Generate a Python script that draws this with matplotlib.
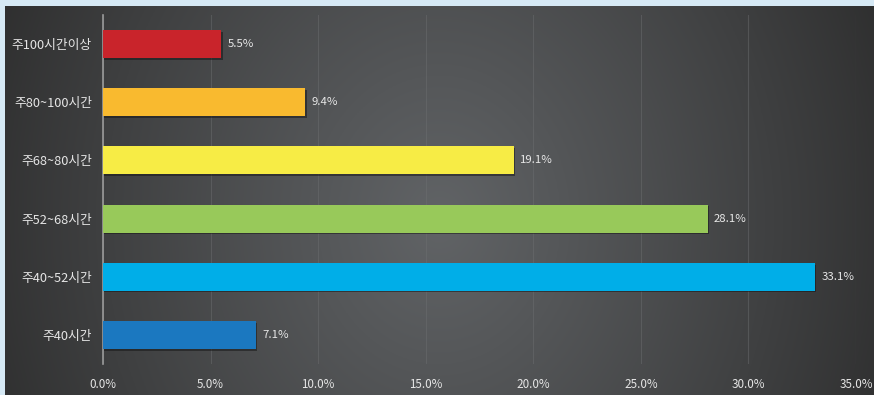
import numpy as np
import matplotlib
matplotlib.use('Agg')
import matplotlib.pyplot as plt
from matplotlib.ticker import FuncFormatter

plt.rcParams['font.family'] = ['Noto Sans CJK KR', 'DejaVu Sans']

categories = ['주100시간이상', '주80~100시간', '주68~80시간', '주52~68시간', '주40~52시간', '주40시간']
shares = [5.5, 9.4, 19.1, 28.1, 33.1, 7.1]
bar_colors = ['#c9242b', '#f9ba2f', '#f7ec45', '#98c95a', '#00aee8', '#1b78c0']
xticks = [0, 5, 10, 15, 20, 25, 30, 35]

W, H = 874, 395
fig = plt.figure(figsize=(W / 100, H / 100), dpi=100)
fig.patch.set_facecolor('#d6e9f5')

# dark panel with a soft glow in the middle, fading to the sides
bg = fig.add_axes([5 / W, 0, 1 - 5 / W, 1 - 6 / H])
yy, xx = np.mgrid[0:1:200j, 0:1:400j]
r = np.sqrt(((xx - 0.5) / 0.6) ** 2 + ((yy - 0.45) / 1.6) ** 2)
shade = np.clip(1 - r, 0, 1) ** 0.9
lo = np.array([0.16, 0.16, 0.16])
hi = np.array([0.38, 0.39, 0.40])
img = lo + (hi - lo) * shade[..., None]
bg.imshow(img, aspect='auto', extent=[0, 1, 0, 1], origin='lower')
bg.axis('off')

ax = fig.add_axes([103 / W, 31 / H, (856 - 103) / W, (380 - 31) / H])
ax.set_facecolor('none')
ax.set_zorder(2)

pos = np.arange(len(categories))
# thin shadow along the lower edge of each bar
ax.barh(pos + 0.03, shares, height=0.48, left=0.06, color='#141414', alpha=0.5, zorder=2)
ax.barh(pos, shares, height=0.48, color=bar_colors, zorder=3)

for p, v in zip(pos, shares):
    ax.text(v + 0.3, p, f'{v}%', va='center', ha='left', fontsize=8.2, color='#e8e8e8', zorder=4)

ax.set_xlim(0, 35)
ax.set_ylim(len(categories) - 0.5, -0.5)
ax.set_xticks(xticks)
ax.xaxis.set_major_formatter(FuncFormatter(lambda v, _: f'{v:.1f}%'))
ax.set_yticks(pos)
ax.set_yticklabels(categories)
ax.tick_params(axis='both', length=0, colors='#e6e6e6', labelsize=9.2)
ax.tick_params(axis='x', labelsize=8.4, pad=10)
ax.tick_params(axis='y', pad=8)

ax.grid(axis='x', color='#6e7072', linewidth=0.8, alpha=0.45, zorder=0)
for s in ['top', 'right', 'bottom']:
    ax.spines[s].set_visible(False)
ax.spines['left'].set_color('#9a9a9a')
ax.spines['left'].set_linewidth(1.2)

fig.savefig('out.png', dpi=100, facecolor=fig.get_facecolor())
